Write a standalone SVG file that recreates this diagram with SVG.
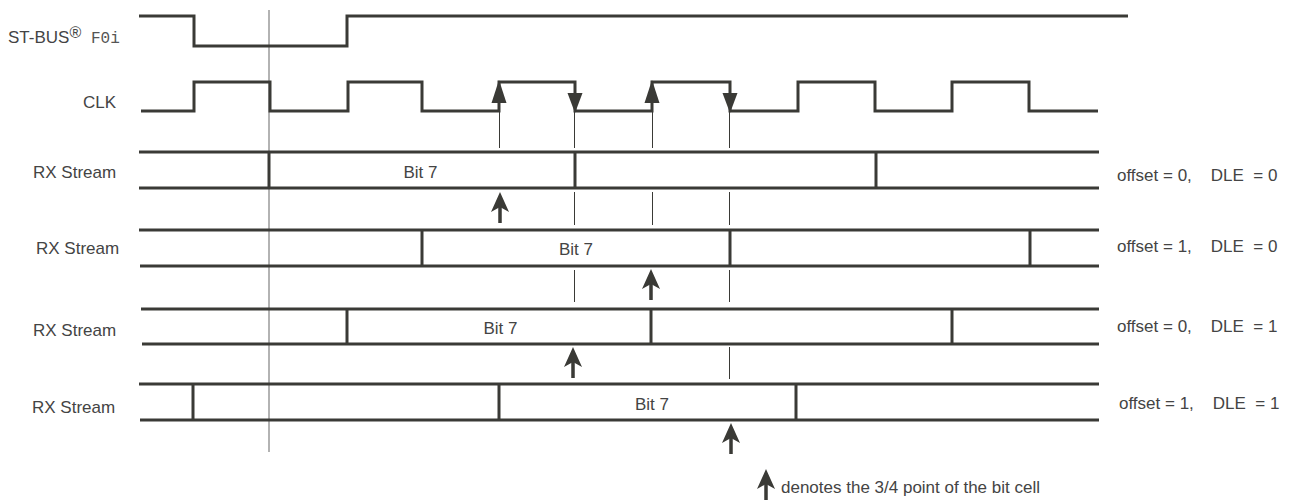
<svg xmlns="http://www.w3.org/2000/svg" xmlns:xlink="http://www.w3.org/1999/xlink" width="1294" height="502" viewBox="0 0 1294 502">
<style>
  .sig { fill: none; stroke: #3a3a36; stroke-width: 3; stroke-linejoin: miter; stroke-linecap: butt; }
  .thin { fill: none; stroke: #3a3a36; stroke-width: 1; }
  .ref { fill: none; stroke: #9a9a9a; stroke-width: 1.5; }
  .lbl { font-family: "Liberation Sans", Arial, sans-serif; font-size: 17px; fill: #444; }
  .mono { font-family: "Liberation Mono", "Courier New", monospace; font-size: 16px; fill: #555; }
  .mid { text-anchor: middle; }
  .pre { white-space: pre; }
  .head { fill: #3a3a36; }
</style>
<defs>
  <g id="arr">
    <path class="head" d="M0,0 L9,20 L0,15 L-9,20 Z"/>
    <rect class="head" x="-1.75" y="12" width="3.5" height="19"/>
  </g>
</defs>
<rect width="1294" height="502" fill="#fff"/>

<line id="refline" class="ref" x1="269" y1="10" x2="269" y2="452"/>

<g id="f0i">
  <path class="sig" d="M139,16 H194 V46 H347 V16 H1128"/>
  <text class="lbl" x="8" y="43">ST-BUS<tspan font-size="16" dy="-5">® </tspan><tspan class="mono" x="91" dy="5">F0i</tspan></text>
</g>

<g id="clk">
  <path class="sig" d="M141,111 H194 V82 H270 V111 H348 V82 H422 V111 H499 V82 H575 V111 H652 V82 H730 V111 H798 V82 H875 V111 H952 V82 H1029 V111 H1098"/>
  <path class="head" d="M499,80 L506.5,103 L491.5,103 Z"/>
  <path class="head" d="M652,80 L659.5,103 L644.5,103 Z"/>
  <path class="head" d="M567.5,93 L582.5,93 L575,113 Z"/>
  <path class="head" d="M722.5,93 L737.5,93 L730,113 Z"/>
  <text class="lbl" x="83" y="108">CLK</text>
</g>

<g id="rx1">
  <path class="sig" d="M139,152 H1099 M139,188 H1099 M269,152 V188 M575,152 V188 M876,152 V188"/>
  <text class="lbl" x="33" y="178">RX Stream</text>
  <text class="lbl mid" x="420.5" y="178">Bit 7</text>
  <text class="lbl pre" x="1117" y="181">offset = 0,    DLE  = 0</text>
</g>

<g id="rx2">
  <path class="sig" d="M139,230 H1099 M140,266 H1099 M422,230 V266 M730,230 V266 M1030,230 V266"/>
  <text class="lbl" x="36" y="254">RX Stream</text>
  <text class="lbl mid" x="576" y="255">Bit 7</text>
  <text class="lbl pre" x="1117" y="252">offset = 1,    DLE  = 0</text>
</g>

<g id="rx3">
  <path class="sig" d="M141,309 H1099 M142,344 H1099 M347,309 V344 M651,309 V344 M952,309 V344"/>
  <text class="lbl" x="33" y="336">RX Stream</text>
  <text class="lbl mid" x="500.5" y="334">Bit 7</text>
  <text class="lbl pre" x="1117" y="332">offset = 0,    DLE  = 1</text>
</g>

<g id="rx4">
  <path class="sig" d="M139,384 H1099 M140,420 H1099 M193,384 V420 M499,384 V420 M796,384 V420"/>
  <text class="lbl" x="32" y="413">RX Stream</text>
  <text class="lbl mid" x="652" y="410">Bit 7</text>
  <text class="lbl pre" x="1119" y="409">offset = 1,    DLE  = 1</text>
</g>

<g id="connectors">
  <path class="thin" d="M499.5,111 V148 M574.5,111 V148 M652.5,111 V148 M729.5,111 V148"/>
  <path class="thin" d="M574.5,192 V225 M652.5,192 V225 M729.5,192 V225"/>
  <path class="thin" d="M574.5,270 V302 M729.5,270 V302"/>
  <path class="thin" d="M729.5,347 V379"/>
  <use xlink:href="#arr" x="500" y="192"/>
  <use xlink:href="#arr" x="651" y="269"/>
  <use xlink:href="#arr" x="573" y="347"/>
  <use xlink:href="#arr" x="731" y="423"/>
</g>

<g id="legend">
  <use xlink:href="#arr" x="766" y="469"/>
  <text class="lbl" x="781" y="493">denotes the 3/4 point of the bit cell</text>
</g>
</svg>
